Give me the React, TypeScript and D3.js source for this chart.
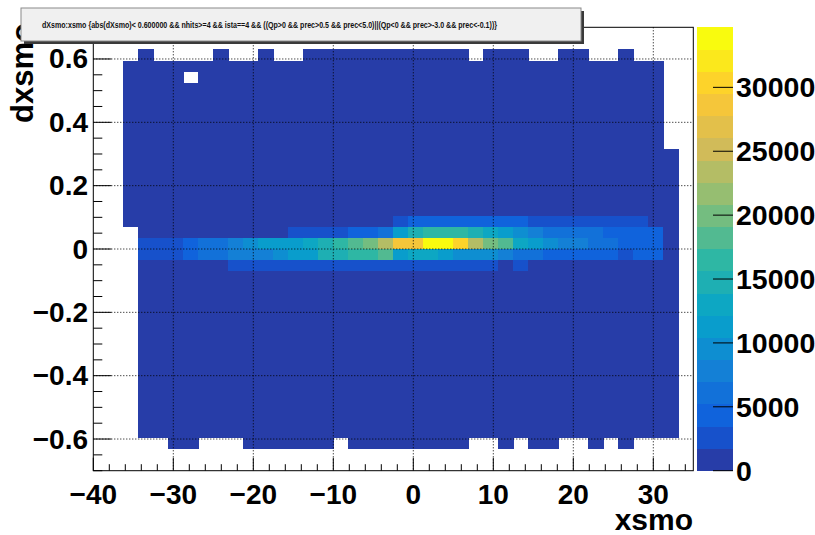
import React from 'react';
import * as d3 from 'd3';

// ---------- data ----------
const W = 815;
const H = 535;
const xDomain: [number, number] = [-40, 35];
const yDomain: [number, number] = [-0.7, 0.7];
const nXBins = 40;
const nYBins = 40;
const nContours = 20;

const xTickValues = [-40, -30, -20, -10, 0, 10, 20, 30];
const xTickLabels = ['\u221240', '\u221230', '\u221220', '\u221210', '0', '10', '20', '30'];
const yTickValues = [-0.6, -0.4, -0.2, 0, 0.2, 0.4, 0.6];
const yTickLabels = ['\u22120.6', '\u22120.4', '\u22120.2', '0', '0.2', '0.4', '0.6'];
const zTickValues = [0, 5000, 10000, 15000, 20000, 25000, 30000];
const zTickLabels = ['0', '5000', '10000', '15000', '20000', '25000', '30000'];

const titleText =
  'dXsmo:xsmo {abs(dXsmo)< 0.600000 && nhits>=4 && ista==4 && ((Qp>0 && prec>0.5 && prec<5.0)||(Qp<0 && prec>-3.0 && prec<-0.1))}';
const xTitle = 'xsmo';
const yTitle = 'dxsmo';

// typical count of the sparse (lowest-level) region
const lowCount = 900;

// occupied x-bin ranges for every y-bin row (row 0 = bottom)
const rowRanges: [number, number][][] = [
  [],
  [],
  [[5, 6], [10, 15], [17, 24], [27, 27], [29, 30], [33, 33], [35, 35]],
  [[3, 38]], [[3, 38]], [[3, 38]], [[3, 38]], [[3, 38]], [[3, 38]], [[3, 38]],
  [[3, 38]], [[3, 38]], [[3, 38]], [[3, 38]], [[3, 38]], [[3, 38]], [[3, 38]],
  [[3, 38]], [[3, 38]], [[3, 38]], [[3, 38]], [[3, 38]],
  [[2, 38]], [[2, 38]], [[2, 38]], [[2, 38]], [[2, 38]], [[2, 38]], [[2, 38]],
  [[2, 37]], [[2, 37]], [[2, 37]], [[2, 37]], [[2, 37]], [[2, 37]],
  [[2, 5], [7, 37]],
  [[2, 37]],
  [[3, 3], [8, 8], [11, 11], [14, 24], [26, 28], [31, 32], [35, 35]],
  [],
  [],
];

// the dense band around dXsmo = 0 (rows 18..22), counts per x-bin
const band18 = [0, 0, 0, 900, 900, 900, 900, 900, 900, 2300, 2500, 2600, 2700, 2800, 2900, 3000, 3100, 3100, 3200, 3100, 3000, 2900, 2800, 2700, 2600, 2500, 2300, 900, 2100, 900, 900, 900, 900, 900, 900, 900, 900, 900, 900, 0];
const band19 = [0, 0, 0, 2300, 2600, 2900, 4100, 5700, 6200, 7400, 7900, 8300, 9200, 10900, 11800, 14200, 15100, 16600, 17100, 18900, 11700, 13400, 13200, 12100, 10200, 9800, 9100, 7700, 6400, 5900, 5000, 4700, 4500, 4300, 3900, 3300, 3800, 3600, 900, 0];
const band20 = [0, 0, 0, 2500, 2800, 3100, 4400, 5900, 6500, 7600, 9400, 11000, 11600, 12000, 13300, 14700, 16400, 18300, 19500, 23300, 28500, 29000, 34700, 34100, 30200, 23600, 20100, 18600, 13100, 11200, 9300, 8200, 7600, 6300, 5600, 4700, 4200, 3800, 900, 0];
const band21 = [0, 0, 0, 900, 900, 900, 900, 900, 900, 900, 900, 900, 900, 2400, 2700, 3000, 3200, 4000, 4600, 6300, 11500, 15000, 16200, 16800, 16400, 14900, 13200, 11200, 9500, 7900, 6800, 6400, 6100, 5800, 5000, 4600, 4200, 3900, 900, 0];
const band22 = [0, 0, 900, 900, 900, 900, 900, 900, 900, 900, 900, 900, 900, 900, 900, 900, 900, 900, 900, 900, 2700, 4100, 4400, 4500, 4300, 4200, 4000, 3900, 3700, 2900, 3000, 2800, 2700, 2600, 2500, 2300, 2200, 900, 900, 0];
const bandRows: Record<number, number[]> = { 18: band18, 19: band19, 20: band20, 21: band21, 22: band22 };

// ROOT kBird palette
const birdStops = [0.0, 0.125, 0.25, 0.375, 0.5, 0.625, 0.75, 0.875, 1.0];
const birdRed = [0.2082, 0.0592, 0.078, 0.0232, 0.1802, 0.5301, 0.8186, 0.9956, 0.9764];
const birdGreen = [0.1664, 0.3599, 0.5041, 0.6419, 0.7178, 0.7492, 0.7328, 0.7862, 0.9832];
const birdBlue = [0.5293, 0.8684, 0.8385, 0.7914, 0.6425, 0.4662, 0.3499, 0.1968, 0.0539];

// ---------- helpers ----------
const birdScale = (c: number[]) => d3.scaleLinear<number>().domain(birdStops).range(c);
const rS = birdScale(birdRed), gS = birdScale(birdGreen), bS = birdScale(birdBlue);
const paletteColor = (t: number) =>
  d3.rgb(Math.round(rS(t) * 255), Math.round(gS(t) * 255), Math.round(bS(t) * 255)).toString();
const levelColor = (k: number) => {
  const idx = Math.floor(((k + 0.99) * 255) / nContours);
  return paletteColor(Math.min(idx, 254) / 254);
};

type Cell = { i: number; j: number; v: number };

function buildCells(): Cell[] {
  const cells: Cell[] = [];
  rowRanges.forEach((ranges, j) => {
    const filled = new Set<number>();
    ranges.forEach(([a, b]) => {
      for (let i = a; i <= b; i++) filled.add(i);
    });
    const band = bandRows[j];
    for (let i = 0; i < nXBins; i++) {
      let v = 0;
      if (band) v = band[i];
      else if (filled.has(i)) v = lowCount;
      if (v > 0) cells.push({ i, j, v });
    }
  });
  return cells;
}

const FONT = '"Liberation Sans", Arial, Helvetica, sans-serif';

export default function App() {
  const frame = { left: 93.3, right: 693.3, top: 27.3, bottom: 470.7 };
  const x = d3.scaleLinear().domain(xDomain).range([frame.left, frame.right]);
  const y = d3.scaleLinear().domain(yDomain).range([frame.bottom, frame.top]);
  const cells = buildCells();
  const zMax = d3.max(cells, (c) => c.v) as number;
  const z = d3.scaleLinear().domain([0, zMax]).range([frame.bottom, frame.top]);
  const xBw = (xDomain[1] - xDomain[0]) / nXBins;
  const yBw = (yDomain[1] - yDomain[0]) / nYBins;
  const level = (v: number) => Math.min(nContours - 1, Math.floor((v / zMax) * nContours));

  const xMinor = d3.range(xDomain[0], xDomain[1] + 1e-9, 2);
  const yMinor = d3.range(yDomain[0], yDomain[1] + 1e-9, 0.05);

  const pal = { left: 696.5, right: 733 };
  const levels = d3.range(nContours);

  return (
    <svg width={W} height={H} style={{ position: 'absolute', left: 0, top: 0, background: '#fff' }} fontFamily={FONT}>
      <rect x={0} y={0} width={W} height={H} fill="#fff" />
      {/* cells */}
      <g shapeRendering="crispEdges">
        {cells.map((c) => {
          const x0 = x(xDomain[0] + c.i * xBw);
          const x1 = x(xDomain[0] + (c.i + 1) * xBw);
          const y0 = y(yDomain[0] + (c.j + 1) * yBw);
          const y1 = y(yDomain[0] + c.j * yBw);
          const col = levelColor(level(c.v));
          return <rect key={`${c.i}-${c.j}`} x={x0} y={y0} width={x1 - x0 + 0.3} height={y1 - y0 + 0.3} fill={col} />;
        })}
      </g>
      {/* grid */}
      <g stroke="#000" strokeWidth={1} strokeDasharray="1,2">
        {xTickValues.slice(1).map((v) => (
          <line key={`gx${v}`} x1={x(v)} x2={x(v)} y1={frame.top} y2={frame.bottom} />
        ))}
        {yTickValues.map((v) => (
          <line key={`gy${v}`} x1={frame.left} x2={frame.right} y1={y(v)} y2={y(v)} />
        ))}
      </g>
      {/* frame */}
      <rect x={frame.left} y={frame.top} width={frame.right - frame.left} height={frame.bottom - frame.top} fill="none" stroke="#000" strokeWidth={1} />
      {/* x axis ticks */}
      <g stroke="#000" strokeWidth={1}>
        {xMinor.map((v) => {
          const major = xTickValues.some((t) => Math.abs(t - v) < 1e-6);
          return <line key={`xt${v}`} x1={x(v)} x2={x(v)} y1={frame.bottom} y2={frame.bottom - (major ? 13 : 6.5)} />;
        })}
        {yMinor.map((v) => {
          const major = yTickValues.some((t) => Math.abs(t - v) < 1e-6);
          return <line key={`yt${v}`} x1={frame.left} x2={frame.left + (major ? 18 : 9)} y1={y(v)} y2={y(v)} />;
        })}
      </g>
      {/* tick labels */}
      <g fontSize={28} fontWeight="bold" fill="#000">
        {xTickValues.map((v, k) => (
          <text key={`xl${v}`} x={x(v)} y={504} textAnchor="middle">{xTickLabels[k]}</text>
        ))}
        {yTickValues.map((v, k) => (
          <text key={`yl${v}`} x={88} y={y(v)} textAnchor="end" dominantBaseline="central">{yTickLabels[k]}</text>
        ))}
      </g>
      {/* axis titles */}
      <text x={693} y={530} textAnchor="end" fontSize={30} fontWeight="bold">{xTitle}</text>
      <text transform="translate(33,123) rotate(-90)" textAnchor="start" fontSize={31} fontWeight="bold">{yTitle}</text>
      {/* palette */}
      <g shapeRendering="crispEdges">
        {levels.map((k) => (
          <rect key={`p${k}`} x={pal.left} width={pal.right - pal.left}
            y={z(((k + 1) * zMax) / nContours)} height={z((k * zMax) / nContours) - z(((k + 1) * zMax) / nContours) + 0.3}
            fill={levelColor(k)} />
        ))}
      </g>
      <g stroke="#000" strokeWidth={1}>
        {zTickValues.map((v) => (
          <line key={`zt${v}`} x1={pal.right - 20} x2={pal.right} y1={z(v)} y2={z(v)} />
        ))}
      </g>
      <g fontSize={28.5} fontWeight="bold" fill="#000">
        {zTickValues.map((v, k) => (
          <text key={`zl${v}`} x={736} y={z(v)} dominantBaseline="central">{zTickLabels[k]}</text>
        ))}
      </g>
      {/* title box */}
      <rect x={24} y={11} width={560} height={33} fill="#3a3a3a" />
      <rect x={21} y={8} width={560} height={33} fill="#f0f0f0" stroke="#8a8a8a" strokeWidth={1} />
      <text x={42} y={28} fontSize={8.5} fontWeight="bold" fill="#111" textLength={455} lengthAdjust="spacingAndGlyphs">{titleText}</text>
    </svg>
  );
}
